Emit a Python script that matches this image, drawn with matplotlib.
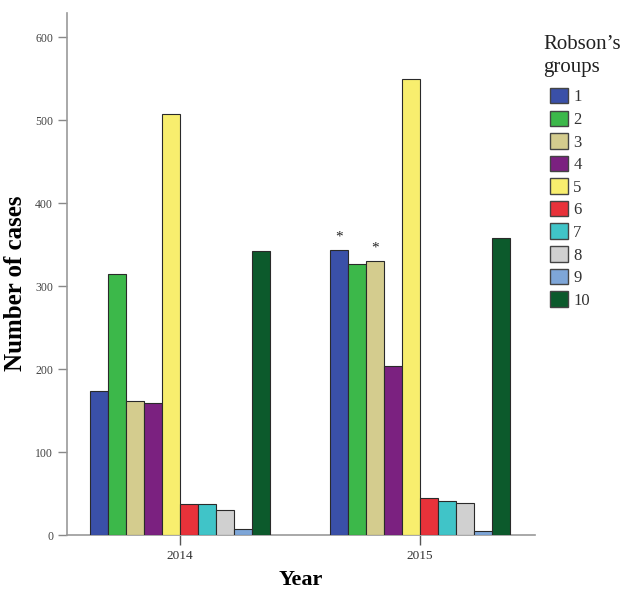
import matplotlib
matplotlib.use("Agg")
import matplotlib.pyplot as plt
from matplotlib.patches import Patch
import numpy as np

years = ["2014", "2015"]
groups = ["1", "2", "3", "4", "5", "6", "7", "8", "9", "10"]
cases_2014 = [173, 315, 161, 159, 507, 37, 37, 30, 7, 342]
cases_2015 = [343, 327, 330, 204, 550, 44, 41, 38, 5, 358]
starred_2015 = ["1", "3"]
colors = ["#3a50a8", "#3cb84a", "#d4cc8e", "#7b2180", "#f8ee6e",
          "#e8323a", "#40c4c8", "#d0d0d0", "#7ea6d8", "#0c5a2c"]

plt.rcParams['font.family'] = ['Liberation Serif', 'DejaVu Serif']

fig = plt.figure(figsize=(6.22, 5.92), dpi=100)
ax = fig.add_axes([67/622, 57/592, (535-67)/622, (535-13)/592])

data = np.array([cases_2014, cases_2015])
x = np.arange(len(years))
w = 0.075
for i, g in enumerate(groups):
    pos = x + (i - 4.5) * w
    ax.bar(pos, data[:, i], width=w, color=colors[i], edgecolor="#2a2a2a",
           linewidth=0.8, zorder=3)
    if g in starred_2015:
        ax.text(pos[1], data[1, i] + 8, "*", ha="center", va="bottom",
                fontsize=11, color="#222222")

ax.set_xlim(-0.471, 1.479)
ax.set_ylim(0, 629)
ax.set_xticks(x)
ax.set_xticklabels(years, fontsize=9.5, color="#333333")
ax.set_yticks([0, 100, 200, 300, 400, 500, 600])
ax.tick_params(axis='y', labelsize=8.5, labelcolor="#444444", color="#888888",
               length=6.5, width=1)
ax.tick_params(axis='x', color="#555555", length=7, width=1)
for s in ["top", "right"]:
    ax.spines[s].set_visible(False)
for s in ["left", "bottom"]:
    ax.spines[s].set_color("#999999")
    ax.spines[s].set_linewidth(1.2)

ax.set_ylabel("Number of cases", fontsize=18, fontweight="bold")
ax.yaxis.set_label_coords(-0.0855, 0.483)
ax.set_xlabel("Year", fontsize=16, fontweight="bold", labelpad=6)

fig.text(543/622, 1 - 35/592, "Robson\u2019s\ngroups", ha="left", va="top",
         fontsize=15, color="#222222", linespacing=1.3)

handles = [Patch(facecolor=c, edgecolor="#444444", linewidth=1.0) for c in colors]
leg = fig.legend(handles, groups,
                 loc="upper left", bbox_to_anchor=(550/622, 1 - 88/592),
                 frameon=False, fontsize=12,
                 handlelength=1.1, handleheight=1.05, labelspacing=0.31,
                 handletextpad=0.3, borderaxespad=0, borderpad=0)
for t in leg.get_texts():
    t.set_color("#333333")

fig.savefig("out.png", dpi=100)
